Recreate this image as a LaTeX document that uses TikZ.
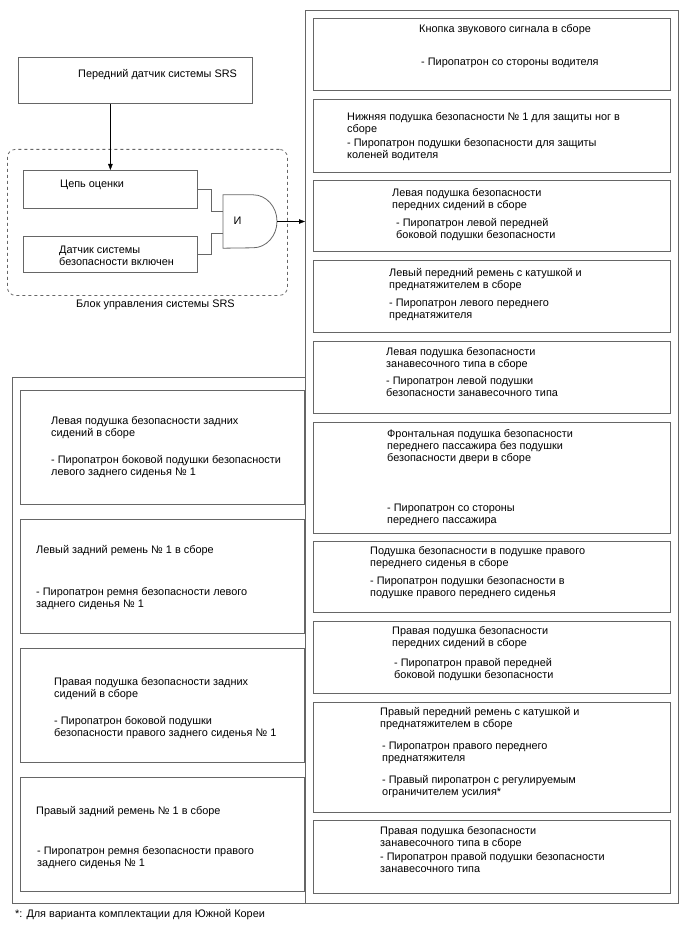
\documentclass[tikz,border=0pt]{standalone}
\usepackage{fontspec}
\setmainfont{Liberation Sans}
\usepackage{tikz}
\usetikzlibrary{positioning,arrows.meta}

\begin{document}
\begin{tikzpicture}[
  x=1pt, y=-1pt,
  node distance=7.9pt,
  >={Triangle[length=6pt,width=4.5pt]},
  box/.style={draw=black!60, line width=0.8pt, inner sep=0pt},
  rbox/.style={box, minimum width=357pt},
  lbox/.style={box, minimum width=284pt, minimum height=114pt},
  txt/.style={anchor=north west, align=left, inner sep=0pt, font=\fontsize{10.9pt}{12pt}\selectfont},
  lbl/.style={anchor=west, inner sep=0pt, font=\fontsize{10.9pt}{12pt}\selectfont},
  wire/.style={draw=black!60, line width=0.8pt}
]
\useasboundingbox (0,0) rectangle (688,949);
\node[box, anchor=north west, minimum width=373pt, minimum height=893pt] (srsout) at (305,10) {};
\node[box, anchor=north west, minimum width=293pt, minimum height=526pt] (rearout) at (12,377) {};

\node[box, anchor=north west, minimum width=234pt, minimum height=46pt] (sensor) at (18,57) {};
\node[lbl] (sensor-t) at (78,75) {Передний датчик системы SRS};
\node[draw=black!60, dashed, rounded corners=8pt, line width=0.8pt, anchor=north west,
      minimum width=280pt, minimum height=146pt] (ecu) at (7,149) {};
\node[lbl] (ecu-t) at (76,305) {Блок управления системы SRS};
\node[box, anchor=north west, minimum width=174pt, minimum height=38pt] (judge) at (23,170) {};
\node[lbl] (judge-t) at (60,185) {Цепь оценки};
\node[box, anchor=north west, minimum width=174pt, minimum height=36pt] (safing) at (23,236) {};
\node[txt] (safing-t) at (59,245.5) {Датчик системы\\безопасности включен};
\node[anchor=west, minimum width=54pt, minimum height=53pt, inner sep=0pt] (andg) at (223,221.5) {};
\draw[wire] (andg.south west) -- (andg.north west) -- ++(30,0)
  arc[start angle=90, end angle=-90, x radius=24pt, y radius=26.5pt] -- cycle;
\node[lbl, anchor=center] (andg-t) at (237.5,221) {И};

\draw[->] (judge.north |- sensor.south) -- (judge.north);
\draw[wire] (judge.east) -- ++(14,0) |- ([yshift=10.5pt]andg.west);
\draw[wire] (safing.east) -- ++(14,0) |- ([yshift=-11.5pt]andg.west);
\draw[->] (andg.east) -- (andg.east -| srsout.west);

\node[rbox, anchor=north west, minimum height=72pt] (horn) at (313,18) {};
\node[rbox, below=of horn, minimum height=73pt] (knee) {};
\node[rbox, below=of knee, minimum height=71pt] (lfside) {};
\node[rbox, below=of lfside, minimum height=72pt] (lfbelt) {};
\node[rbox, below=of lfbelt, minimum height=72pt] (lcurt) {};
\node[rbox, below=of lcurt, minimum height=111pt] (pass) {};
\node[rbox, below=of pass, minimum height=71pt] (cush) {};
\node[rbox, below=of cush, minimum height=72pt] (rfside) {};
\node[rbox, below=of rfside, minimum height=110pt] (rfbelt) {};
\node[rbox, below=of rfbelt, minimum height=73pt] (rcurt) {};

\node[txt] (horn-t) at ([xshift=106pt, yshift=-6pt]horn.north west)
  {Кнопка звукового сигнала в сборе\\[21pt]\hspace*{2pt}- Пиропатрон со стороны водителя};
\node[txt] (knee-t) at ([xshift=34pt, yshift=-14pt]knee.north west)
  {Нижняя подушка безопасности № 1 для защиты ног в\\сборе\\[2pt]- Пиропатрон подушки безопасности для защиты\\коленей водителя};
\node[txt] (lfside-t) at ([xshift=79pt, yshift=-8pt]lfside.north west)
  {Левая подушка безопасности\\передних сидений в сборе\\[6pt]\hspace*{4pt}- Пиропатрон левой передней\\\hspace*{4pt}боковой подушки безопасности};
\node[txt] (lfbelt-t) at ([xshift=76pt, yshift=-8pt]lfbelt.north west)
  {Левый передний ремень с катушкой и\\преднатяжителем в сборе\\[6pt]- Пиропатрон левого переднего\\преднатяжителя};
\node[txt] (lcurt-t) at ([xshift=73pt, yshift=-7pt]lcurt.north west)
  {Левая подушка безопасности\\занавесочного типа в сборе\\[5pt]- Пиропатрон левой подушки\\безопасности занавесочного типа};
\node[txt] (pass-t) at ([xshift=74pt, yshift=-8pt]pass.north west)
  {Фронтальная подушка безопасности\\переднего пассажира без подушки\\безопасности двери в сборе\\[38pt]- Пиропатрон со стороны\\переднего пассажира};
\node[txt] (cush-t) at ([xshift=57pt, yshift=-5pt]cush.north west)
  {Подушка безопасности в подушке правого\\переднего сиденья в сборе\\[6pt]- Пиропатрон подушки безопасности в\\подушке правого переднего сиденья};
\node[txt] (rfside-t) at ([xshift=79pt, yshift=-5pt]rfside.north west)
  {Правая подушка безопасности\\передних сидений в сборе\\[8pt]\hspace*{2pt}- Пиропатрон правой передней\\\hspace*{2pt}боковой подушки безопасности};
\node[txt] (rfbelt-t) at ([xshift=67pt, yshift=-6pt]rfbelt.north west)
  {Правый передний ремень с катушкой и\\преднатяжителем в сборе\\[10pt]\hspace*{2pt}- Пиропатрон правого переднего\\\hspace*{2pt}преднатяжителя\\[10pt]\hspace*{2pt}- Правый пиропатрон с регулируемым\\\hspace*{2pt}ограничителем усилия*};
\node[txt] (rcurt-t) at ([xshift=67pt, yshift=-6pt]rcurt.north west)
  {Правая подушка безопасности\\занавесочного типа в сборе\\[2pt]- Пиропатрон правой подушки безопасности\\занавесочного типа};

\node[lbox, anchor=north west] (lrside) at (20,390) {};
\node[lbox, below=14.2pt of lrside] (lrbelt) {};
\node[lbox, below=14.2pt of lrbelt] (rrside) {};
\node[lbox, below=14.2pt of rrside] (rrbelt) {};

\node[txt] (lrside-t) at ([xshift=31pt, yshift=-26pt]lrside.north west)
  {Левая подушка безопасности задних\\сидений в сборе\\[15pt]- Пиропатрон боковой подушки безопасности\\левого заднего сиденья № 1};
\node[txt] (lrbelt-t) at ([xshift=16pt, yshift=-26pt]lrbelt.north west)
  {Левый задний ремень № 1 в сборе\\[30pt]- Пиропатрон ремня безопасности левого\\заднего сиденья № 1};
\node[txt] (rrside-t) at ([xshift=34pt, yshift=-29pt]rrside.north west)
  {Правая подушка безопасности задних\\сидений в сборе\\[15pt]- Пиропатрон боковой подушки\\безопасности правого заднего сиденья № 1};
\node[txt] (rrbelt-t) at ([xshift=16pt, yshift=-29pt]rrbelt.north west)
  {Правый задний ремень № 1 в сборе\\[28pt]\hspace*{1pt}- Пиропатрон ремня безопасности правого\\\hspace*{1pt}заднего сиденья № 1};

\node[lbl] (note) at (15,915) {*: Для варианта комплектации для Южной Кореи};
\end{tikzpicture}
\end{document}
